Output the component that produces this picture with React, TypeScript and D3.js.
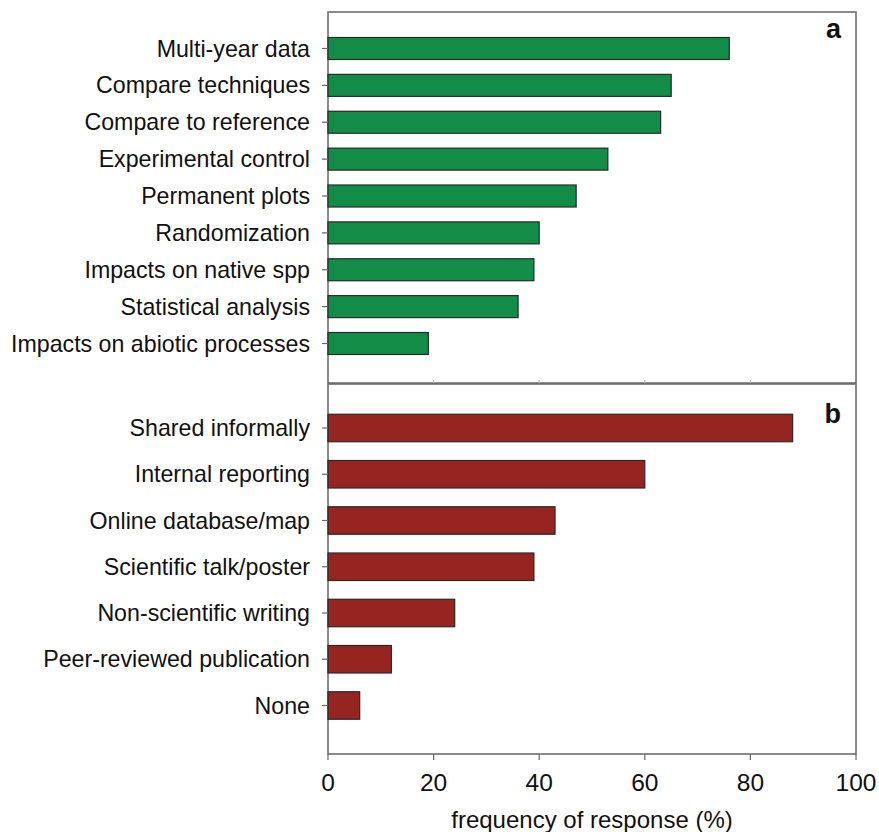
import React from "react";
import * as d3 from "d3";

const catsA = [
  "Multi-year data",
  "Compare techniques",
  "Compare to reference",
  "Experimental control",
  "Permanent plots",
  "Randomization",
  "Impacts on native spp",
  "Statistical analysis",
  "Impacts on abiotic processes",
];
const valsA = [76, 65, 63, 53, 47, 40, 39, 36, 19];

const catsB = [
  "Shared informally",
  "Internal reporting",
  "Online database/map",
  "Scientific talk/poster",
  "Non-scientific writing",
  "Peer-reviewed publication",
  "None",
];
const valsB = [88, 60, 43, 39, 24, 12, 6];

const xTicks = [0, 20, 40, 60, 80, 100];
const xTitle = "frequency of response (%)";

const W = 879;
const H = 832;
const FONT = "'Liberation Sans', Arial, sans-serif";

export default function App() {
  const x = d3.scaleLinear().domain([0, 100]).range([328, 856]);
  const yA = d3.scalePoint<string>().domain(catsA).range([48.5, 343.5]);
  const yB = d3.scalePoint<string>().domain(catsB).range([428, 705.5]);

  const panels = [
    { cats: catsA, vals: valsA, y: yA, top: 12, bottom: 383, bh: 22, fill: "#128c47", letter: "a", ly: 38 },
    { cats: catsB, vals: valsB, y: yB, top: 384, bottom: 754, bh: 27.5, fill: "#962421", letter: "b", ly: 423 },
  ];

  return (
    <svg width={W} height={H} style={{ display: "block", position: "absolute", left: 0, top: 0 }}>
      <rect width={W} height={H} fill="#fff" />
      {panels.map((p, pi) => (
        <g key={pi}>
          <rect
            x={x(0)}
            y={p.top}
            width={x(100) - x(0)}
            height={p.bottom - p.top}
            fill="none"
            stroke="#666"
            strokeWidth={1.5}
          />
          {p.cats.map((c, i) => {
            const cy = p.y(c) as number;
            return (
              <g key={c}>
                <rect
                  x={x(0)}
                  y={cy - p.bh / 2}
                  width={x(p.vals[i]) - x(0)}
                  height={p.bh}
                  fill={p.fill}
                  stroke="#2a2a2a"
                  strokeWidth={1.2}
                />
                <line x1={x(0) - 6} x2={x(0)} y1={cy} y2={cy} stroke="#666" strokeWidth={1.2} />
                <text
                  x={310}
                  y={cy}
                  dy="0.35em"
                  textAnchor="end"
                  fontFamily={FONT}
                  fontSize={23.2}
                  fill="#111"
                >
                  {c}
                </text>
              </g>
            );
          })}
          <text
            x={841}
            y={p.ly}
            textAnchor="end"
            fontFamily={FONT}
            fontWeight="bold"
            fontSize={27}
            fill="#111"
          >
            {p.letter}
          </text>
        </g>
      ))}
      {xTicks.slice(1, -1).map((t) => (
        <line key={"s" + t} x1={x(t)} x2={x(t)} y1={383} y2={380} stroke="#bbb" strokeWidth={1} />
      ))}
      {xTicks.map((t) => (
        <g key={t}>
          <line x1={x(t)} x2={x(t)} y1={754} y2={760} stroke="#666" strokeWidth={1.2} />
          <text
            x={x(t)}
            y={791}
            textAnchor="middle"
            fontFamily={FONT}
            fontSize={24.5}
            fill="#111"
          >
            {t}
          </text>
        </g>
      ))}
      <text
        x={(x(0) + x(100)) / 2}
        y={828}
        textAnchor="middle"
        fontFamily={FONT}
        fontSize={24}
        fill="#111"
      >
        {xTitle}
      </text>
    </svg>
  );
}
